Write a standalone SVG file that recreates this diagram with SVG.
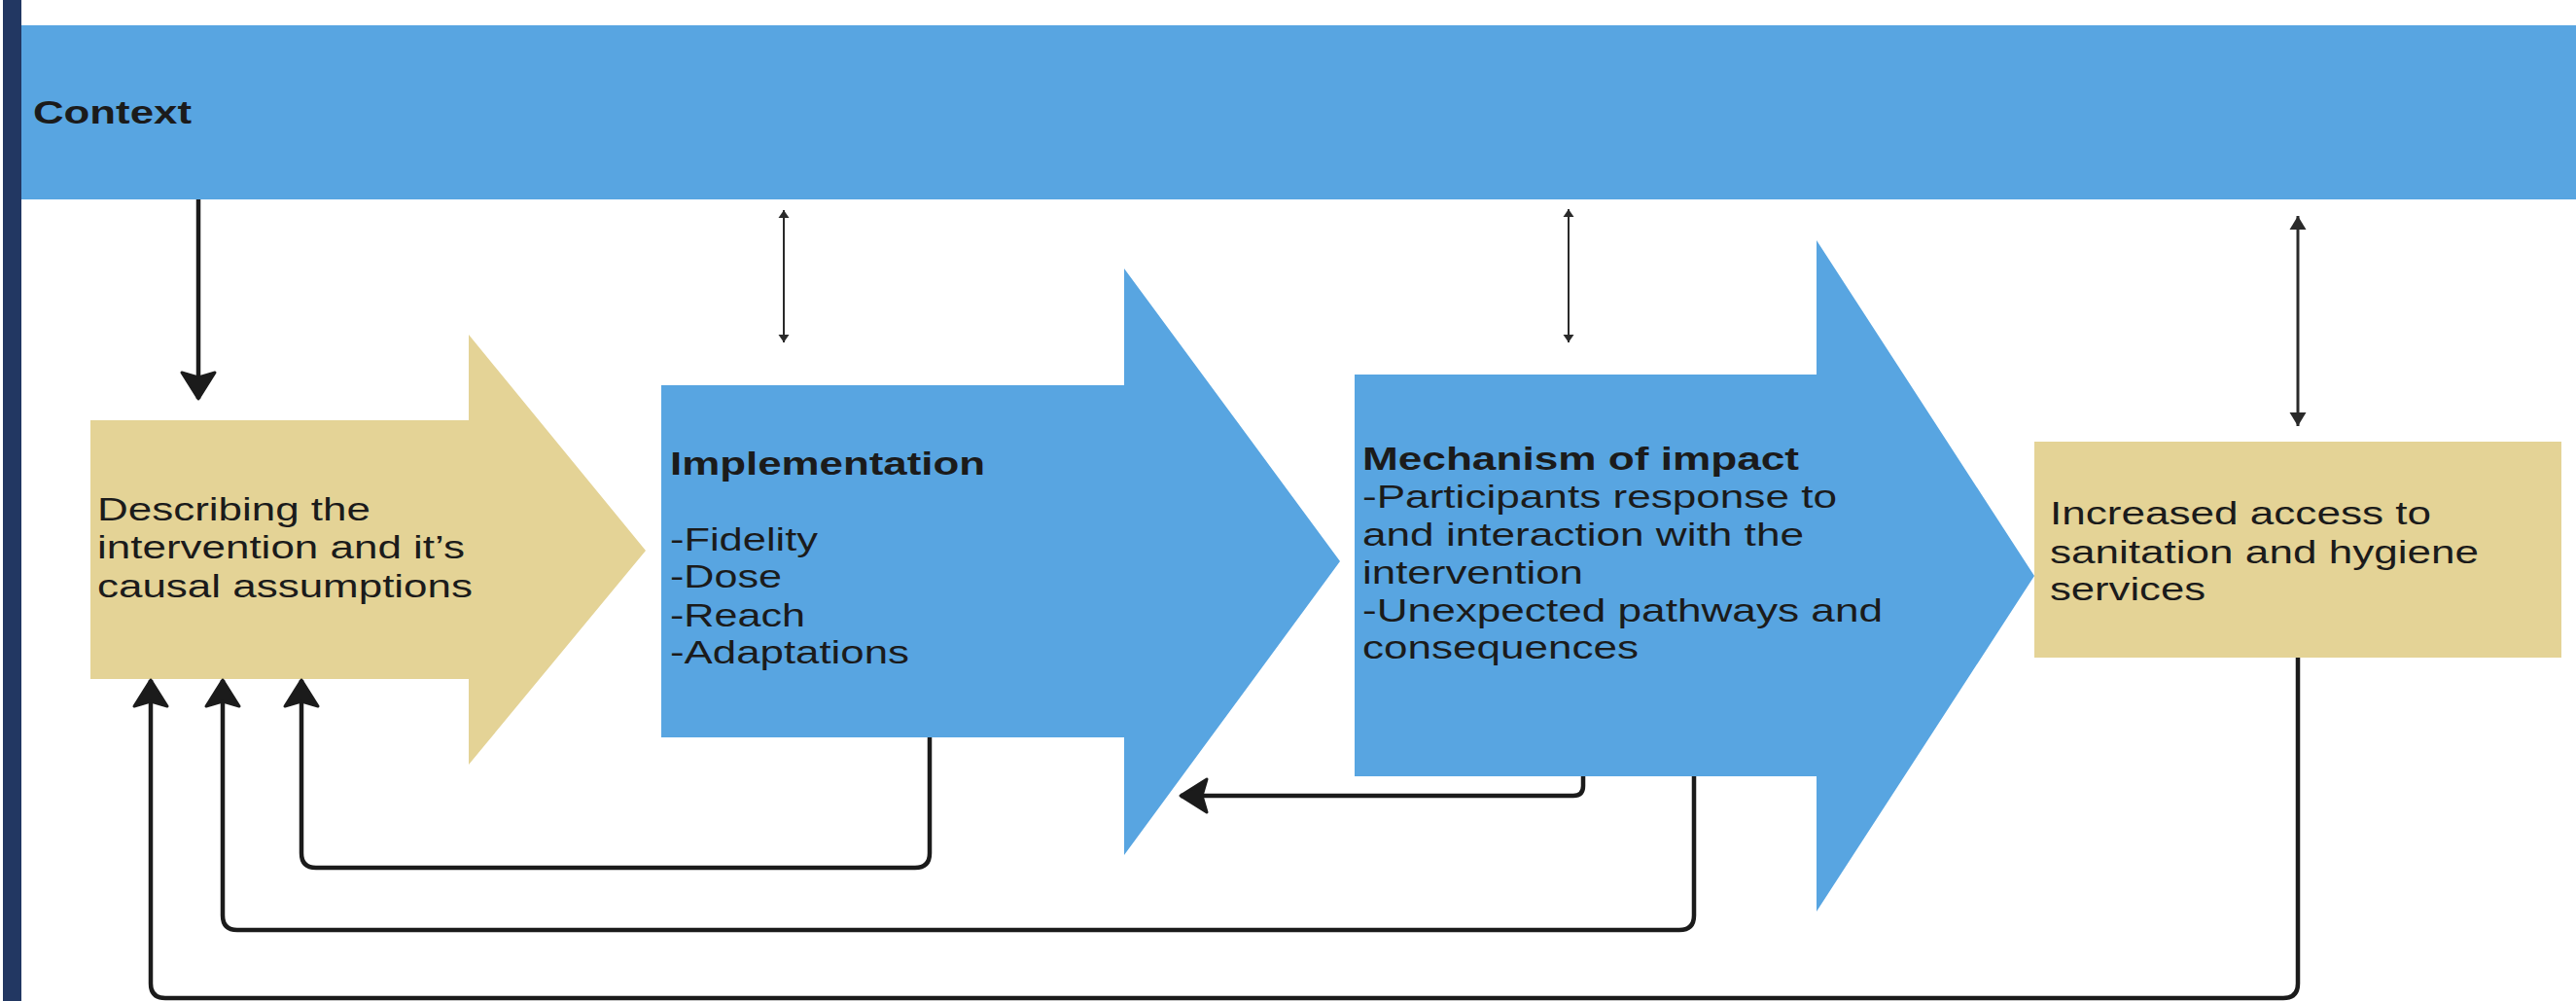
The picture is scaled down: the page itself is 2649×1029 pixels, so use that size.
<svg xmlns="http://www.w3.org/2000/svg" width="2649" height="1029" viewBox="0 0 2649 1029">
  <style>
    .blue { fill: #58a5e1; }
    .sand { fill: #e4d396; }
    .navy { fill: #223762; }
    .txt { font-family: "Liberation Sans", Arial, sans-serif; font-size: 33px; fill: #1b1b1b; }
    .bold { font-weight: bold; }
    .link { fill: none; stroke: #1b1b1b; stroke-width: 4.5; stroke-linejoin: round; }
    .thin { fill: none; stroke: #2a2a2a; stroke-width: 2; }
    .mid { fill: none; stroke: #2a2a2a; stroke-width: 3; }
  </style>
  <defs>
    <marker id="head" markerUnits="userSpaceOnUse" orient="auto" refX="0" refY="0" markerWidth="40" markerHeight="40" overflow="visible">
      <path d="M0,0 L-27,-17 L-22,0 L-27,17 Z" fill="#1b1b1b" stroke="#1b1b1b" stroke-width="3" stroke-linejoin="round"/>
    </marker>
    <marker id="tipS" markerUnits="userSpaceOnUse" orient="auto-start-reverse" refX="0" refY="0" markerWidth="20" markerHeight="20" overflow="visible">
      <path d="M0,0 L-8,-5.5 L-8,5.5 Z" fill="#2a2a2a"/>
    </marker>
    <marker id="tipM" markerUnits="userSpaceOnUse" orient="auto-start-reverse" refX="0" refY="0" markerWidth="30" markerHeight="30" overflow="visible">
      <path d="M0,0 L-14,-8.5 L-14,8.5 Z" fill="#2a2a2a"/>
    </marker>
  </defs>

  <rect width="2649" height="1029" fill="#ffffff"/>
  <!-- left edge band -->
  <rect class="navy" x="3" y="0" width="19" height="1029"/>

  <g id="context">
    <rect class="blue" x="22" y="26" width="2627" height="179"/>
    <text class="txt bold" x="34" y="127" textLength="163" lengthAdjust="spacingAndGlyphs">Context</text>
  </g>

  <g id="describing">
    <polygon class="sand" points="93,432 482,432 482,344 664,566 482,786 482,698 93,698"/>
    <text class="txt" x="100" y="535" textLength="281" lengthAdjust="spacingAndGlyphs">Describing the</text>
    <text class="txt" x="100" y="574" textLength="378" lengthAdjust="spacingAndGlyphs">intervention and it’s</text>
    <text class="txt" x="100" y="614" textLength="386" lengthAdjust="spacingAndGlyphs">causal assumptions</text>
  </g>

  <g id="implementation">
    <polygon class="blue" points="680,396 1156,396 1156,276 1378,577 1156,879 1156,758 680,758"/>
    <text class="txt bold" x="689" y="488" font-size="34" textLength="324" lengthAdjust="spacingAndGlyphs">Implementation</text>
    <text class="txt" x="689" y="566" textLength="152" lengthAdjust="spacingAndGlyphs">-Fidelity</text>
    <text class="txt" x="689" y="604" textLength="115" lengthAdjust="spacingAndGlyphs">-Dose</text>
    <text class="txt" x="689" y="644" textLength="139" lengthAdjust="spacingAndGlyphs">-Reach</text>
    <text class="txt" x="689" y="682" textLength="246" lengthAdjust="spacingAndGlyphs">-Adaptations</text>
  </g>

  <g id="mechanism">
    <polygon class="blue" points="1393,385 1868,385 1868,247 2092,592 1868,937 1868,798 1393,798"/>
    <text class="txt bold" x="1401" y="483" textLength="449" lengthAdjust="spacingAndGlyphs">Mechanism of impact</text>
    <text class="txt" x="1401" y="522" textLength="488" lengthAdjust="spacingAndGlyphs">-Participants response to</text>
    <text class="txt" x="1401" y="561" textLength="454" lengthAdjust="spacingAndGlyphs">and interaction with the</text>
    <text class="txt" x="1401" y="600" textLength="227" lengthAdjust="spacingAndGlyphs">intervention</text>
    <text class="txt" x="1401" y="639" textLength="535" lengthAdjust="spacingAndGlyphs">-Unexpected pathways and</text>
    <text class="txt" x="1401" y="677" textLength="284" lengthAdjust="spacingAndGlyphs">consequences</text>
  </g>

  <g id="outcome">
    <rect class="sand" x="2092" y="454" width="542" height="222"/>
    <text class="txt" x="2108" y="539" textLength="392" lengthAdjust="spacingAndGlyphs">Increased access to</text>
    <text class="txt" x="2108" y="579" textLength="441" lengthAdjust="spacingAndGlyphs">sanitation and hygiene</text>
    <text class="txt" x="2108" y="617" textLength="160" lengthAdjust="spacingAndGlyphs">services</text>
  </g>

  <g id="connectors">
    <!-- context into the intervention description -->
    <path class="link" d="M204,205 V410" marker-end="url(#head)"/>
    <!-- feedback loops returning to the intervention description -->
    <path class="link" d="M956,758 V877 Q956,892 941,892 H325 Q310,892 310,877 V699" marker-end="url(#head)"/>
    <path class="link" d="M1742,798 V941 Q1742,956 1727,956 H244 Q229,956 229,941 V699" marker-end="url(#head)"/>
    <path class="link" d="M2363,676 V1011 Q2363,1026 2348,1026 H170 Q155,1026 155,1011 V699" marker-end="url(#head)"/>
    <!-- mechanism back to implementation -->
    <path class="link" d="M1628,798 V808 Q1628,818 1618,818 H1214" marker-end="url(#head)"/>
    <!-- two-way links with context -->
    <path class="thin" d="M806,216 V352" marker-start="url(#tipS)" marker-end="url(#tipS)"/>
    <path class="thin" d="M1613,215 V352" marker-start="url(#tipS)" marker-end="url(#tipS)"/>
    <path class="mid" d="M2363,222 V438" marker-start="url(#tipM)" marker-end="url(#tipM)"/>
  </g>
</svg>
